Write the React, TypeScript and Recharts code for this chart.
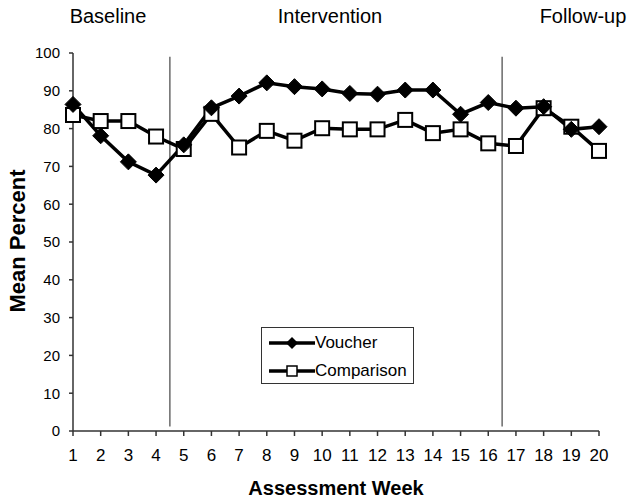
import React from 'react';
import { LineChart, Line, XAxis, YAxis, ReferenceLine, Legend } from 'recharts';

const weeks = [1, 2, 3, 4, 5, 6, 7, 8, 9, 10, 11, 12, 13, 14, 15, 16, 17, 18, 19, 20];
const voucher = [86.4, 78.1, 71.2, 67.7, 75.7, 85.5, 88.6, 92.1, 91.1, 90.5, 89.3, 89.1, 90.2, 90.2, 83.8, 86.9, 85.4, 85.8, 79.8, 80.5];
const comparison = [83.6, 82.0, 82.0, 77.9, 74.6, 83.9, 75.0, 79.4, 76.8, 80.1, 79.8, 79.8, 82.3, 78.8, 79.8, 76.1, 75.4, 85.4, 80.5, 74.1];
const yTicks = [0, 10, 20, 30, 40, 50, 60, 70, 80, 90, 100];
const phaseBreaks = [4.5, 16.5];
const phaseLabels = ['Baseline', 'Intervention', 'Follow-up'];
const seriesNames = ['Voucher', 'Comparison'];

const data = weeks.map((w, i) => ({ week: w, Voucher: voucher[i], Comparison: comparison[i] }));

const FONT = '"Liberation Sans", Arial, sans-serif';

const Diamond = (props: any) => {
  const { cx, cy } = props;
  if (cx == null || cy == null) return null;
  const r = 8;
  return <path d={`M${cx},${cy - r}L${cx + r},${cy}L${cx},${cy + r}L${cx - r},${cy}Z`} fill="#000" stroke="#000" strokeWidth={1} />;
};

const Square = (props: any) => {
  const { cx, cy } = props;
  if (cx == null || cy == null) return null;
  const h = 7;
  return <rect x={cx - h} y={cy - h} width={h * 2} height={h * 2} fill="#fff" stroke="#000" strokeWidth={2} />;
};

const LegendContent = (props: any) => {
  const payload = (props.payload || []).slice().sort(
    (a: any, b: any) => seriesNames.indexOf(a.value) - seriesNames.indexOf(b.value)
  );
  return (
    <div style={{ width: 153, height: 57, border: '1px solid #333', boxSizing: 'border-box', background: '#fff', position: 'relative', fontFamily: FONT }}>
      {payload.map((p: any, i: number) => {
        const cy = i === 0 ? 15 : 43;
        return (
          <div key={p.value} style={{ position: 'absolute', left: 0, top: cy - 12, height: 24, width: 153 }}>
            <svg width={50} height={24} style={{ position: 'absolute', left: 5, top: 0 }}>
              <line x1={2} y1={12} x2={48} y2={12} stroke="#000" strokeWidth={3.5} />
              {p.value === 'Voucher' ? (
                <path d="M25,6L31,12L25,18L19,12Z" fill="#000" />
              ) : (
                <rect x={20} y={7} width={10} height={10} fill="#fff" stroke="#000" strokeWidth={1.5} />
              )}
            </svg>
            <span style={{ position: 'absolute', left: 53, top: 2, fontSize: 17, lineHeight: '20px', color: '#000' }}>{p.value}</span>
          </div>
        );
      })}
    </div>
  );
};

export default function App() {
  return (
    <div style={{ position: 'absolute', left: 0, top: 0, width: 632, height: 503, background: '#fff' }}>
      <LineChart width={632} height={503} data={data} margin={{ top: 53, right: 33, bottom: 0, left: 0 }}>
        <XAxis
          dataKey="week"
          type="number"
          domain={[1, 20]}
          ticks={weeks}
          interval={0}
          height={72}
          stroke="#000"
          tickSize={5}
          tickMargin={13}
          tick={{ fill: '#000', fontSize: 17, fontFamily: FONT }}
          axisLine={{ stroke: '#333', strokeWidth: 1.5 }}
          tickLine={{ stroke: '#333', strokeWidth: 1.5 }}
        />
        <YAxis
          type="number"
          domain={[0, 100]}
          ticks={yTicks}
          interval={0}
          width={73}
          tickSize={4}
          tickMargin={9}
          tick={{ fill: '#000', fontSize: 15, fontFamily: FONT }}
          axisLine={{ stroke: '#333', strokeWidth: 1.5 }}
          tickLine={{ stroke: '#333', strokeWidth: 1.5 }}
        />
        {phaseBreaks.map((b) => (
          <ReferenceLine key={b} segment={[{ x: b, y: 1.2 }, { x: b, y: 99 }]} stroke="#444" strokeWidth={1.2} />
        ))}
        <Line
          type="linear"
          dataKey="Comparison"
          name="Comparison"
          stroke="#000"
          strokeWidth={3.5}
          dot={<Square />}
          activeDot={false}
          isAnimationActive={false}
        />
        <Line
          type="linear"
          dataKey="Voucher"
          name="Voucher"
          stroke="#000"
          strokeWidth={3.5}
          dot={<Diamond />}
          activeDot={false}
          isAnimationActive={false}
        />
        <Legend
          layout="vertical"
          align="center"
          verticalAlign="middle"
          content={<LegendContent />}
          wrapperStyle={{ position: 'absolute', left: 261, top: 327, width: 153, height: 57 }}
        />
      </LineChart>
      <svg width={632} height={503} style={{ position: 'absolute', left: 0, top: 0, pointerEvents: 'none' }}>
        <g fontFamily={FONT} fill="#000">
          <text x={108} y={23} fontSize={20} textAnchor="middle">{phaseLabels[0]}</text>
          <text x={330} y={23} fontSize={20} textAnchor="middle">{phaseLabels[1]}</text>
          <text x={583} y={23} fontSize={20} textAnchor="middle">{phaseLabels[2]}</text>
          <text x={336} y={495} fontSize={20} fontWeight="bold" textAnchor="middle">Assessment Week</text>
          <text x={25} y={241} fontSize={22} fontWeight="bold" textAnchor="middle" transform="rotate(-90 25 241)">Mean Percent</text>
        </g>
      </svg>
    </div>
  );
}
